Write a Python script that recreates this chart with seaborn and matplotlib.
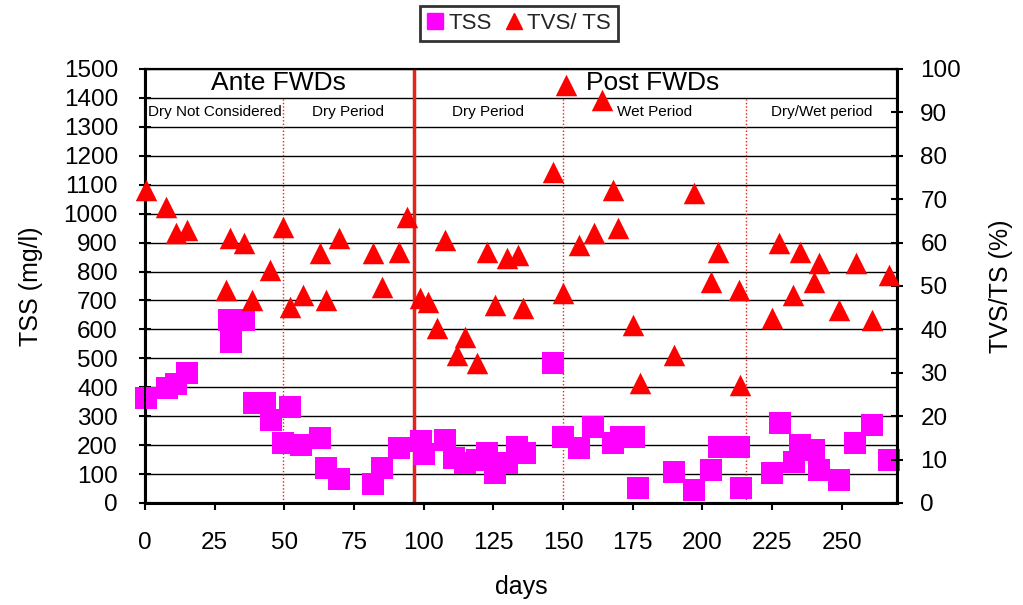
import matplotlib
matplotlib.use("Agg")
import matplotlib.pyplot as plt
import seaborn as sns
from matplotlib.lines import Line2D

# ==========================================
# DATA
# ==========================================
tss_days = [0.5, 8, 11, 15, 30, 31, 35.7, 39, 43, 45.4, 49.5, 52, 56, 62.7, 65, 69.5,
            82, 85, 91, 99, 100, 107.7, 111, 115, 119, 122.8, 125.7, 130, 133.6, 136.5,
            146.6, 150, 155.6, 160.7, 168, 170.7, 175.5, 177, 190, 197, 203, 206, 213,
            214, 225, 228, 233, 235, 240, 241.7, 249, 254.7, 261, 267]
tss_vals = [363, 397, 410, 449, 632, 557, 632, 345, 345, 287, 207, 332, 200, 225, 121, 83,
            65, 121, 190, 214, 169, 218, 155, 138, 150, 173, 104, 138, 194, 173,
            484, 228, 190, 263, 207, 228, 228, 52, 107, 45, 114, 194, 194,
            52, 104, 276, 142, 200, 183, 114, 80, 207, 270, 149]

tvs_days = [0.5, 7.6, 11, 15, 29, 30.6, 35.7, 38.5, 45, 49.5, 52, 56.7, 62.7, 65, 69.5,
            82, 85, 91, 94, 98.7, 101.7, 104.8, 107.7, 112, 115, 119, 122.8, 125.7, 130,
            134, 135.8, 146.6, 150, 151, 155.6, 161, 164, 168, 169.7, 175, 177.6, 190,
            197, 203, 205.7, 213, 213.6, 225, 227.7, 232.7, 235, 240, 242, 249, 255, 261, 267]
tvs_vals = [72.1, 68.2, 62.2, 62.9, 49.1, 61.0, 59.9, 46.8, 53.7, 63.6, 45.2, 47.9, 57.6, 46.8, 61.0,
            57.6, 49.8, 57.8, 65.9, 47.2, 46.3, 40.3, 60.6, 34.1, 38.2, 32.3, 57.8, 45.6, 56.5,
            57.1, 44.9, 76.3, 48.4, 96.3, 59.4, 62.2, 92.9, 72.1, 63.4, 41.0, 27.6, 34.1,
            71.4, 50.9, 57.8, 49.1, 27.2, 42.6, 59.9, 47.9, 57.8, 50.9, 55.3, 44.5, 55.3, 42.2, 52.5]

x_ticks = [0, 25, 50, 75, 100, 125, 150, 175, 200, 225, 250]
tss_ticks = list(range(0, 1501, 100))
tvs_ticks = list(range(0, 101, 10))

fwd_day = 96.5
period_bounds = [49.4, 150, 215.8]
phase_labels = ["Ante FWDs", "Post FWDs"]
phase_x = [48, 182]
period_labels = ["Dry Not Considered", "Dry Period", "Dry Period", "Wet Period", "Dry/Wet period"]
period_x = [25, 73, 123, 183, 243]

# ==========================================
# STYLING
# ==========================================
sns.set_theme(style="white")
plt.rcParams["font.family"] = ["Liberation Sans", "DejaVu Sans"]

TSS_COLOR = "#FF00FF"
TVS_COLOR = "#FF0000"
LINE_RED = "#E3241B"

fig = plt.figure(figsize=(10.23, 6.05), dpi=100)
ax = fig.add_axes([0.1417, 0.1686, 0.7355, 0.7174])
ax2 = ax.twinx()

# horizontal grid + period separators
ax.set_axisbelow(True)
ax.yaxis.grid(True, color="black", linewidth=1.0)
ax.axvline(fwd_day, color=LINE_RED, linewidth=2.5, zorder=2)
for b in period_bounds:
    ax.plot([b, b], [0, 1400], color=LINE_RED, linewidth=1.0, linestyle=(0, (1, 1.5)), zorder=2)

sns.scatterplot(x=tss_days, y=tss_vals, marker="s", s=240, color=TSS_COLOR,
                linewidth=0, ax=ax, legend=False, zorder=3, clip_on=False)
sns.scatterplot(x=tvs_days, y=tvs_vals, marker="^", s=240, color=TVS_COLOR,
                linewidth=0, ax=ax2, legend=False, zorder=3, clip_on=False)

ax.set_xlim(0, 270)
ax.set_ylim(0, 1500)
ax2.set_ylim(0, 100)
ax.set_xticks(x_ticks)
ax.set_yticks(tss_ticks)
ax2.set_yticks(tvs_ticks)

for a in (ax, ax2):
    for side in a.spines.values():
        side.set_color("black")
        side.set_linewidth(1.5)
ax.spines["left"].set_linewidth(2.2)
ax2.spines["right"].set_linewidth(2.2)
ax.spines["bottom"].set_linewidth(2.2)

ax.tick_params(axis="y", direction="inout", length=9, width=1.5, pad=15,
               labelsize=17.5, colors="black", left=True)
ax.tick_params(axis="x", direction="out", length=5, width=1.5, pad=16,
               labelsize=17.5, colors="black", bottom=True)
ax2.tick_params(axis="y", direction="inout", length=9, width=1.5, pad=12,
                labelsize=17.5, colors="black", right=True)

ax.set_xlabel("days", fontsize=18, labelpad=15, color="black")
ax.set_ylabel("TSS (mg/l)", fontsize=18, labelpad=15, color="black")
ax2.set_ylabel("TVS/TS (%)", fontsize=18, labelpad=20, color="black")

# phase and period annotations
for label, x in zip(phase_labels, phase_x):
    ax.text(x, 1450, label, ha="center", va="center", fontsize=19, color="black", zorder=4)
for label, x in zip(period_labels, period_x):
    ax.text(x, 1350, label, ha="center", va="center", fontsize=11, color="black", zorder=4)

# legend at the top
handles = [
    Line2D([], [], marker="s", linestyle="none", color=TSS_COLOR, markersize=12),
    Line2D([], [], marker="^", linestyle="none", color=TVS_COLOR, markersize=12),
]
leg = fig.legend(handles, ["TSS", "TVS/ TS"], loc="center", bbox_to_anchor=(0.507, 0.961),
                 ncol=2, fontsize=16, frameon=True, fancybox=False, edgecolor="black",
                 handlelength=0.8, handletextpad=0.2, columnspacing=0.6, borderpad=0.3)
leg.get_frame().set_linewidth(2)

fig.savefig("out.png", dpi=100)
